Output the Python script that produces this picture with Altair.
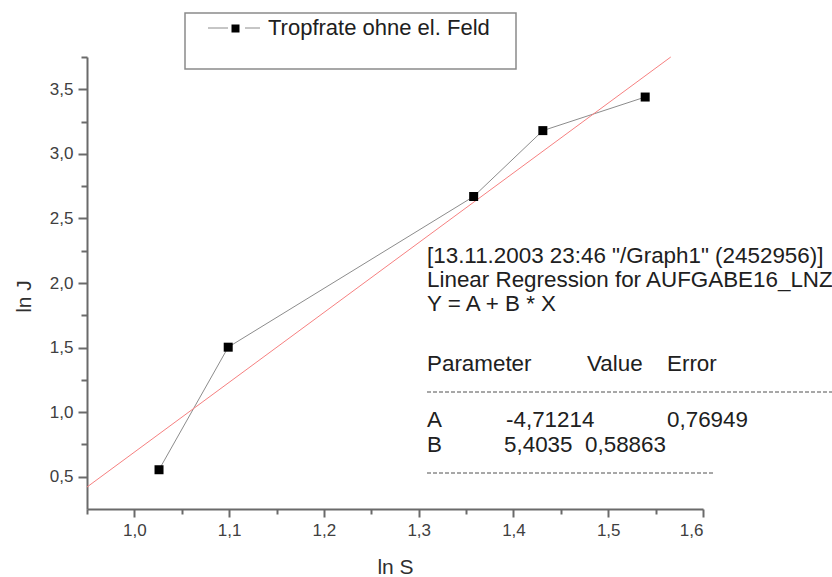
import altair as alt
import pandas as pd

# ---- data ----
ln_s = [1.026, 1.099, 1.358, 1.431, 1.539]
ln_j = [0.554, 1.503, 2.670, 3.180, 3.440]

# regression line Y = A + B*X (drawn inside the plotted range)
fit_x = [0.95, 1.566]
fit_y = [0.42, 3.75]

x_major = [1.0, 1.1, 1.2, 1.3, 1.4, 1.5, 1.6]
x_minor = [0.95, 1.05, 1.15, 1.25, 1.35, 1.45, 1.55]
y_major = [0.5, 1.0, 1.5, 2.0, 2.5, 3.0, 3.5]
y_minor = [0.75, 1.25, 1.75, 2.25, 2.75, 3.25, 3.75]

legend_label = "Tropfrate ohne el. Feld"
header_lines = ['[13.11.2003 23:46 "/Graph1" (2452956)]',
                'Linear Regression for AUFGABE16_LNZ',
                'Y = A + B * X']
table_head = ["Parameter", "Value", "Error"]
param_names = ["A", "B"]
param_values = ["-4,71214", "5,4035"]
param_errors = ["0,76949", "0,58863"]

FONT = "Liberation Sans"
W, H = 616, 452
AX = "#6a6a6a"

pts = pd.DataFrame({"s": ln_s, "j": ln_j})
fit = pd.DataFrame({"s": fit_x, "j": fit_y})

xscale = alt.Scale(domain=[0.95, 1.6], nice=False, zero=False)
yscale = alt.Scale(domain=[0.25, 3.75], nice=False, zero=False)

comma = "replace(format(datum.value, '.1f'), '.', ',')"

x_axis = alt.Axis(
    orient="bottom", title="ln S", values=x_major, grid=False, labelExpr=comma,
    labelOverlap=False, tickSize=8, tickWidth=2, tickColor=AX,
    domainColor=AX, domainWidth=2,
    labelFont=FONT, labelFontSize=17, labelColor="#404040", labelPadding=5,
    titleFont=FONT, titleFontSize=21, titleFontWeight="normal", titleColor="#303030",
    titleY=64, titleBaseline="alphabetic",
)
y_axis = alt.Axis(
    orient="left", title="ln J", values=y_major, grid=False, labelExpr=comma,
    labelOverlap=False, tickSize=9, tickWidth=2, tickColor=AX,
    domainColor=AX, domainWidth=2,
    labelFont=FONT, labelFontSize=17, labelColor="#404040", labelPadding=5,
    titleFont=FONT, titleFontSize=21, titleFontWeight="normal", titleColor="#303030",
    titleX=-57, titleY=239, titleBaseline="alphabetic", titleAngle=-90,
)
x_minor_axis = alt.Axis(orient="bottom", title=None, values=x_minor, labels=False,
                        grid=False, domain=False, tickSize=5, tickWidth=2, tickColor=AX)
y_minor_axis = alt.Axis(orient="left", title=None, values=y_minor, labels=False,
                        grid=False, domain=False, tickSize=6, tickWidth=2, tickColor=AX)

conn = alt.Chart(pts).mark_line(color="#8c8c8c", strokeWidth=1).encode(
    x=alt.X("s:Q", scale=xscale, axis=x_axis),
    y=alt.Y("j:Q", scale=yscale, axis=y_axis),
    order="s:Q")
reg = alt.Chart(fit).mark_line(color="#f68080", strokeWidth=1).encode(
    x=alt.X("s:Q", scale=xscale, axis=None),
    y=alt.Y("j:Q", scale=yscale, axis=None))
marks = alt.Chart(pts).mark_point(shape="square", filled=True, size=81, color="black", opacity=1).encode(
    x=alt.X("s:Q", scale=xscale, axis=x_minor_axis),
    y=alt.Y("j:Q", scale=yscale, axis=y_minor_axis))

one = alt.Data(values=[{}])


def label(txt, px, py, size=22.4):
    return alt.Chart(one).mark_text(font=FONT, fontSize=size, color="#202020",
                                    align="left", baseline="alphabetic").encode(
        x=alt.value(px), y=alt.value(py), text=alt.value(txt))


def hline(px1, px2, py, color, dash=None, width=1.0):
    kw = dict(color=color, strokeWidth=width)
    if dash:
        kw["strokeDash"] = dash
    return alt.Chart(one).mark_rule(**kw).encode(
        x=alt.value(px1), x2=alt.value(px2), y=alt.value(py))


# legend box (above the plot area)
leg_box = alt.Chart(one).mark_rect(fill="white", stroke="#8a8a8a", strokeWidth=1.5).encode(
    x=alt.value(98), x2=alt.value(429), y=alt.value(-44), y2=alt.value(12))
leg_l1 = hline(121, 141, -29, "#8c8c8c")
leg_l2 = hline(158, 173, -29, "#8c8c8c")
leg_sq = alt.Chart(one).mark_point(shape="square", filled=True, size=64, color="black", opacity=1).encode(
    x=alt.value(148.5), y=alt.value(-28.5))
leg_tx = label(legend_label, 181, -22, 22)

texts = [
    label(header_lines[0], 340, 206),
    label(header_lines[1], 340, 230),
    label(header_lines[2], 340, 254),
    label(table_head[0], 340, 314),
    label(table_head[1], 500, 314),
    label(table_head[2], 580, 314),
    hline(340, 760, 335, "#505050", dash=[4, 2]),
    label(param_names[0], 340, 370),
    label(param_values[0], 419, 370),
    label(param_errors[0], 580, 370),
    label(param_names[1], 340, 395),
    label(param_values[1], 417, 395),
    label(param_errors[1], 498, 395),
    hline(340, 626, 416, "#505050", dash=[4, 2]),
]

chart = alt.layer(conn, reg, marks, leg_box, leg_l1, leg_l2, leg_sq, leg_tx, *texts).resolve_axis(
    x="independent", y="independent"
).properties(
    width=W, height=H,
    autosize=alt.AutoSizeParams(type="none"),
    padding={"left": 87, "top": 57, "right": 129, "bottom": 68},
    background="white",
).configure_view(stroke=None)

chart.save("out.html", embed_options={"renderer": "svg", "actions": False})
